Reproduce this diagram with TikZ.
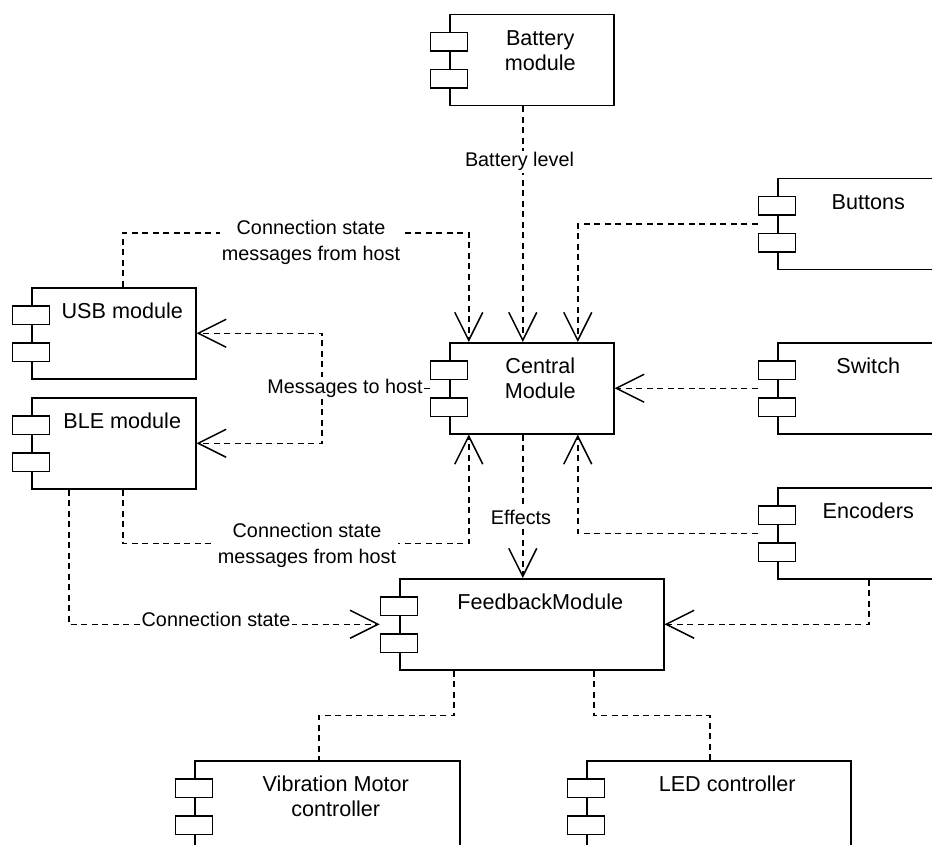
\documentclass[tikz,border=0pt]{standalone}
\usepackage{fontspec}
\setmainfont{Liberation Sans}
\usetikzlibrary{arrows.meta}

\tikzset{
  compbox/.style={draw, line width=1.5pt, inner sep=0pt, minimum height=91pt},
  iconbox/.style={draw, fill=white, line width=1.5pt, inner sep=0pt,
                  minimum width=37pt, minimum height=18.5pt},
  comptext/.style={inner sep=0pt, align=center,
                   font=\fontsize{21.6}{25}\selectfont},
  dep/.style={draw, line width=1.5pt, dash pattern=on 6pt off 4.5pt},
  uses/.style={dep, -{Straight Barb[length=28pt,width=28pt,line width=1.5pt]}},
  lbl/.style={fill=white, inner xsep=1.5pt, inner ysep=2pt, align=center,
              font=\fontsize{19.8}{25.5}\selectfont},
}

% UML component: name, left, top, width, caption
\newcommand\umlcomp[5]{%
  \node[compbox, minimum width=#4pt, anchor=north west] (#1) at (#2,#3) {};
  \node[iconbox, anchor=north] (#1-a) at ([yshift=-18pt]#1.north west) {};
  \node[iconbox, anchor=north] (#1-b) at ([yshift=-55pt]#1.north west) {};
  \node[comptext, anchor=north] (#1-t) at ([xshift=8.5pt,yshift=-16pt]#1.north) {#5};
}

\begin{document}
\begin{tikzpicture}[x=1pt, y=-1pt]
  \useasboundingbox (0,0) rectangle (932,845);
  \clip (0,0) rectangle (932,845);

  % components
  \umlcomp{bat}{449}{14}{164}{Battery\\module}
  \umlcomp{usb}{31}{287}{164}{USB module}
  \umlcomp{ble}{31}{397}{164}{BLE module}
  \umlcomp{cen}{449}{342}{164}{Central\\Module}
  \umlcomp{btn}{777}{178}{164}{Buttons}
  \umlcomp{sw}{777}{342}{164}{Switch}
  \umlcomp{enc}{777}{487}{164}{Encoders}
  \umlcomp{fb}{399}{578}{264}{FeedbackModule}
  \umlcomp{vib}{194}{760}{265}{Vibration Motor\\controller}
  \umlcomp{led}{586}{760}{264}{LED controller}

  % dependencies
  \draw[uses] ([xshift=-9pt]bat.south) -- ([xshift=-9pt]cen.north);
  \draw[uses] ([xshift=9pt]usb.north) -- ++(0,-54) -| ([xshift=-63pt]cen.north);
  \coordinate (hostsplit) at ([xshift=-127pt]cen.west);
  \draw[dep] (cen-a.west |- cen.west) -- (hostsplit);
  \draw[uses] (hostsplit) |- (usb.east);
  \draw[uses] (hostsplit) |- (ble.east);
  \draw[uses] ([xshift=9pt]ble.south) -- ++(0,54) -| ([xshift=-63pt]cen.south);
  \draw[uses] ([xshift=-45pt]ble.south) |- (fb-a.west |- fb.west);
  \draw[uses] ([xshift=-9pt]cen.south) -- ([xshift=-9pt]fb.north);
  \draw[uses] (btn-a.west |- btn.west) -| ([xshift=46pt]cen.north);
  \draw[uses] (sw-a.west |- sw.west) -- (cen.east);
  \draw[uses] (enc-a.west |- enc.west) -| ([xshift=46pt]cen.south);
  \draw[uses] ([xshift=9pt]enc.south) |- (fb.east);
  \draw[dep] ([xshift=-78pt]fb.south) -- ++(0,45) -| ([xshift=-8.5pt]vib.north);
  \draw[dep] ([xshift=62pt]fb.south) -- ++(0,45) -| ([xshift=-9pt]led.north);

  % labels
  \node[lbl, anchor=base] (l-bat) at (519.5,167) {Battery level};
  \node[lbl, anchor=north] (l-usb) at (311,218) {Connection state\\messages from host};
  \node[lbl, anchor=base] (l-host) at (345,393) {Messages to host};
  \node[lbl, anchor=north] (l-ble) at (307,521) {Connection state\\messages from host};
  \node[lbl, anchor=base] (l-fx) at (521,524) {Effects};
  \node[lbl, anchor=base] (l-conn) at (216,626) {Connection state};
\end{tikzpicture}
\end{document}
